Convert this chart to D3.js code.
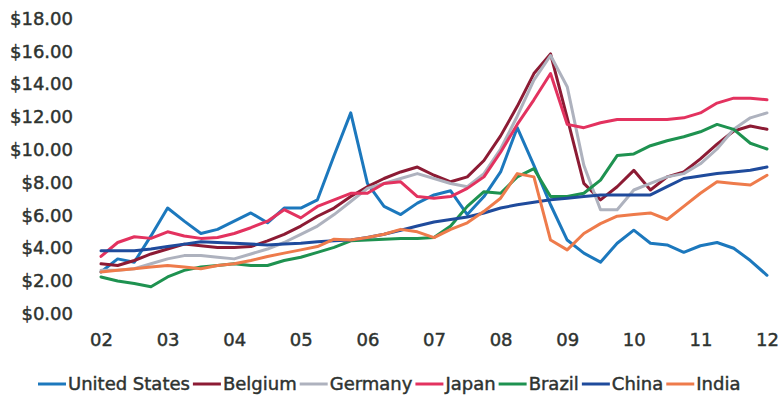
<!DOCTYPE html>
<html>
<head>
<meta charset="utf-8">
<script src="https://cdn.jsdelivr.net/npm/d3@7"></script>
<style>
  html, body { margin: 0; padding: 0; background: #fff; }
  svg text {
    font-family: "DejaVu Sans", Verdana, sans-serif;
    fill: #2e3330;
    stroke: #2e3330;
    stroke-width: 0.45px;
  }
</style>
</head>
<body>
<svg id="chart" width="781" height="400"></svg>
<script>
// Quarterly prices, 2002 Q1 through 2012 Q1
const startYear = 2002;
const yearTicks = ["02","03","04","05","06","07","08","09","10","11","12"];
const yTicks = [0, 2, 4, 6, 8, 10, 12, 14, 16, 18];

const seriesNames = ["United States","Belgium","Germany","Japan","Brazil","China","India"];
const seriesColors = ["#1c78bd","#8c1b34","#aeb2be","#e3325f","#1e9250","#1f4b9c","#ee7b4b"];

const unitedStates = [2.5,3.3,3.1,4.7,6.4,5.6,4.85,5.1,5.6,6.1,5.5,6.4,6.4,6.9,9.6,12.2,7.9,6.5,6.0,6.7,7.2,7.45,6.0,7.1,8.6,11.3,9.0,6.6,4.45,3.65,3.1,4.25,5.05,4.25,4.15,3.7,4.1,4.3,3.95,3.2,2.3];
const belgium = [3.0,2.9,3.2,3.6,3.9,4.2,4.1,4.0,4.0,4.05,4.4,4.8,5.3,5.9,6.4,7.1,7.7,8.2,8.6,8.9,8.4,8.0,8.3,9.3,10.8,12.6,14.6,15.8,11.9,7.9,6.9,7.7,8.7,7.5,8.3,8.6,9.4,10.3,11.1,11.4,11.2];
const germany = [2.6,2.6,2.7,3.0,3.3,3.5,3.5,3.4,3.3,3.6,3.9,4.3,4.8,5.3,6.0,6.8,7.6,7.9,8.2,8.5,8.2,7.9,7.7,8.5,10.0,12.0,14.2,15.7,13.8,9.0,6.3,6.3,7.5,7.9,8.3,8.5,9.1,10.0,11.2,11.9,12.2];
const japan = [3.45,4.3,4.65,4.55,4.95,4.7,4.55,4.6,4.85,5.2,5.6,6.3,5.8,6.5,6.9,7.3,7.3,7.9,8.0,7.1,7.0,7.1,7.6,8.3,9.8,11.5,13.0,14.6,11.5,11.3,11.6,11.8,11.8,11.8,11.8,11.9,12.2,12.8,13.1,13.1,13.0];
const brazil = [2.2,1.95,1.8,1.6,2.2,2.6,2.8,2.9,3.0,2.9,2.9,3.2,3.4,3.7,4.0,4.4,4.45,4.5,4.55,4.55,4.6,5.3,6.5,7.4,7.3,8.3,8.8,7.1,7.1,7.3,8.1,9.6,9.7,10.2,10.5,10.75,11.05,11.5,11.2,10.35,10.0];
const china = [3.8,3.8,3.8,3.9,4.05,4.2,4.35,4.3,4.25,4.2,4.15,4.2,4.25,4.35,4.4,4.45,4.6,4.8,5.05,5.3,5.55,5.7,5.85,6.1,6.4,6.6,6.75,6.9,7.0,7.1,7.2,7.2,7.2,7.2,7.7,8.2,8.35,8.5,8.6,8.7,8.9];
const india = [2.5,2.6,2.7,2.8,2.9,2.8,2.7,2.9,3.0,3.2,3.45,3.65,3.85,4.05,4.5,4.45,4.6,4.8,5.1,4.95,4.6,5.1,5.5,6.2,7.0,8.5,8.3,4.45,3.85,4.85,5.45,5.9,6.0,6.1,5.7,6.5,7.3,8.0,7.9,7.8,8.4];

const seriesValues = [unitedStates, belgium, germany, japan, brazil, china, india];

const svg = d3.select("#chart");

const x = d3.scaleLinear().domain([startYear, startYear + 10]).range([101, 767]);
const y = d3.scaleLinear().domain([0, 18]).range([313, 17.8]);

// Y axis labels
const yAxis = d3.axisLeft(y)
  .tickValues(yTicks)
  .tickSize(0)
  .tickPadding(0)
  .tickFormat(d => "$" + d3.format(".2f")(d));
const gy = svg.append("g").attr("transform", "translate(73,0)").call(yAxis);
gy.select(".domain").remove();
gy.selectAll("text")
  .style("font-size", "18px")
  .attr("dy", "0.36em")
  .attr("fill", null);

// X axis labels
const xAxis = d3.axisBottom(x)
  .tickValues(d3.range(startYear, startYear + 11))
  .tickSize(0)
  .tickPadding(0)
  .tickFormat((d, i) => yearTicks[i]);
const gx = svg.append("g").attr("transform", "translate(0,333)").call(xAxis);
gx.select(".domain").remove();
gx.selectAll("text")
  .style("font-size", "18px")
  .attr("dy", "0.71em")
  .attr("fill", null);

// Lines
const line = d3.line()
  .x((d, i) => x(startYear + i / 4))
  .y(d => y(d));

svg.append("g")
  .selectAll("path")
  .data(seriesValues)
  .join("path")
  .attr("d", line)
  .attr("fill", "none")
  .attr("stroke", (d, i) => seriesColors[i])
  .attr("stroke-width", 3)
  .attr("stroke-linejoin", "round")
  .attr("stroke-linecap", "round");

// Legend
const legend = svg.append("g").attr("transform", "translate(38,384)");
let lx = 0;
seriesNames.forEach((name, i) => {
  const item = legend.append("g").attr("transform", `translate(${lx},0)`);
  item.append("line")
    .attr("x1", 0).attr("x2", 28)
    .attr("y1", 0).attr("y2", 0)
    .attr("stroke", seriesColors[i])
    .attr("stroke-width", 3);
  const t = item.append("text")
    .attr("x", 30)
    .attr("dy", "0.36em")
    .style("font-size", "18px")
    .text(name);
  lx += 30 + t.node().getComputedTextLength() + 3;
});
</script>
</body>
</html>
